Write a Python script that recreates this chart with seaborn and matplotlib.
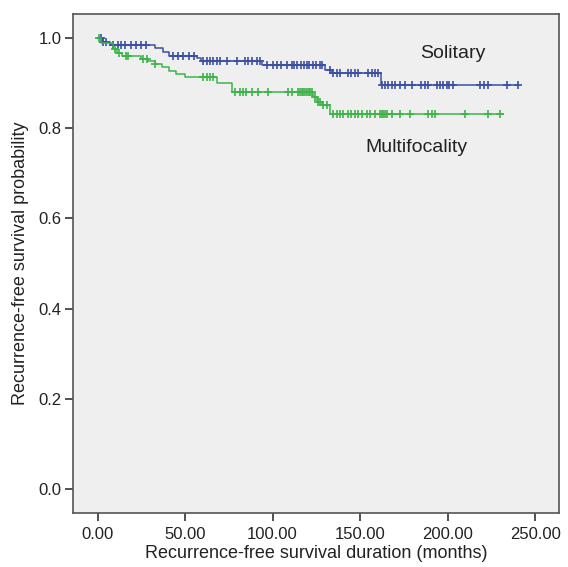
import numpy as np
import pandas as pd
import matplotlib
matplotlib.use("Agg")
import matplotlib.pyplot as plt
import seaborn as sns

# Kaplan-Meier steps (months, survival after the step)
solitary_time = [0, 3, 7, 33, 37.5, 41, 57, 59, 94, 130, 134, 162, 240]
solitary_surv = [1.0, 0.991, 0.984, 0.977, 0.970, 0.959, 0.955, 0.948, 0.940, 0.929, 0.922, 0.895, 0.895]

multi_time = [0, 2, 9, 11, 14, 25, 29, 33, 37, 41, 45, 50, 68, 77, 123, 125.5, 128, 132.7, 231.5]
multi_surv = [1.0, 0.988, 0.975, 0.967, 0.959, 0.953, 0.948, 0.942, 0.935, 0.927, 0.920, 0.914,
              0.900, 0.881, 0.870, 0.859, 0.851, 0.832, 0.832]

# censored observations (months)
solitary_cens = [2, 3, 5, 8.7, 11.6, 13.3, 15.6, 19, 22, 24.7, 27.6, 43, 46, 49, 52, 55, 60.5, 62.5,
                 64.3, 66.2, 68, 70, 74, 79.6, 84, 86, 88, 91, 92.7, 97, 100, 102.5, 105, 108, 111,
                 112, 114, 116, 118, 119.5, 121, 123, 125, 127, 128, 132.7, 134.5, 136.7, 138.5, 143,
                 145, 147, 148.7, 154.5, 156.7, 158.5, 160, 162.5, 164, 166, 168, 170, 173, 175.6,
                 179.6, 185, 187, 189, 194, 195.6, 197.3, 199.6, 201, 203, 218.5, 221, 223, 234, 240]
multi_cens = [1, 10, 12, 16, 17.5, 26, 28, 33, 60, 62.5, 64.3, 66, 78.5, 81.3, 83, 85, 88, 91.6,
              97.3, 108.7, 111, 114.5, 115.6, 116.7, 117.6, 118.5, 119.6, 120.5, 121.3, 122.5, 124,
              126, 127, 129, 131, 134.5, 136.7, 138.5, 140, 143, 145, 147, 148.7, 151, 154, 155.6,
              158.5, 161.3, 162.5, 163, 164, 165.3, 168, 173, 178.6, 189, 191, 193, 210, 223, 230]

blue = "#3c4fa3"
green = "#3db34a"


def step_value(times, surv, t):
    idx = np.searchsorted(times, t, side="right") - 1
    return np.asarray(surv)[idx]


sns.set_theme(style="ticks")
plt.rcParams["font.family"] = ["Liberation Sans", "DejaVu Sans"]

fig = plt.figure(figsize=(5.68, 5.67), dpi=100)
ax = fig.add_axes([0.1285, 0.0952, 0.8555, 0.88])
ax.set_facecolor("#efefef")

for times, surv, cens, col in [(solitary_time, solitary_surv, solitary_cens, blue),
                                (multi_time, multi_surv, multi_cens, green)]:
    sns.lineplot(x=times, y=surv, drawstyle="steps-post", estimator=None, sort=False,
                 color=col, linewidth=1.1, ax=ax)
    cens_y = step_value(times, surv, cens)
    sns.scatterplot(x=cens, y=cens_y, marker="+", s=36, color=col, linewidth=1.2, ax=ax)

ax.text(203, 0.965, "Solitary", fontsize=14, ha="center", va="center", color="#222222")
ax.text(182, 0.758, "Multifocality", fontsize=14, ha="center", va="center", color="#222222")

ax.set_xlim(-14, 263.5)
ax.set_ylim(-0.053, 1.053)
ax.set_xticks([0, 50, 100, 150, 200, 250])
ax.set_xticklabels(["0.00", "50.00", "100.00", "150.00", "200.00", "250.00"])
ax.set_yticks([0.0, 0.2, 0.4, 0.6, 0.8, 1.0])
ax.set_yticklabels(["0.0", "0.2", "0.4", "0.6", "0.8", "1.0"])
ax.tick_params(axis="both", labelsize=12, length=5.8, width=1.2, color="#333333",
               labelcolor="#222222", pad=2.5)
ax.tick_params(axis="x", pad=4.5)
ax.set_xlabel("Recurrence-free survival duration (months)", fontsize=13, color="#222222", labelpad=2)
ax.set_ylabel("Recurrence-free survival probability", fontsize=13, color="#222222", labelpad=7)
for sp in ax.spines.values():
    sp.set_visible(True)
    sp.set_color("#555555")
    sp.set_linewidth(1.2)

fig.savefig("out.png", dpi=100)
